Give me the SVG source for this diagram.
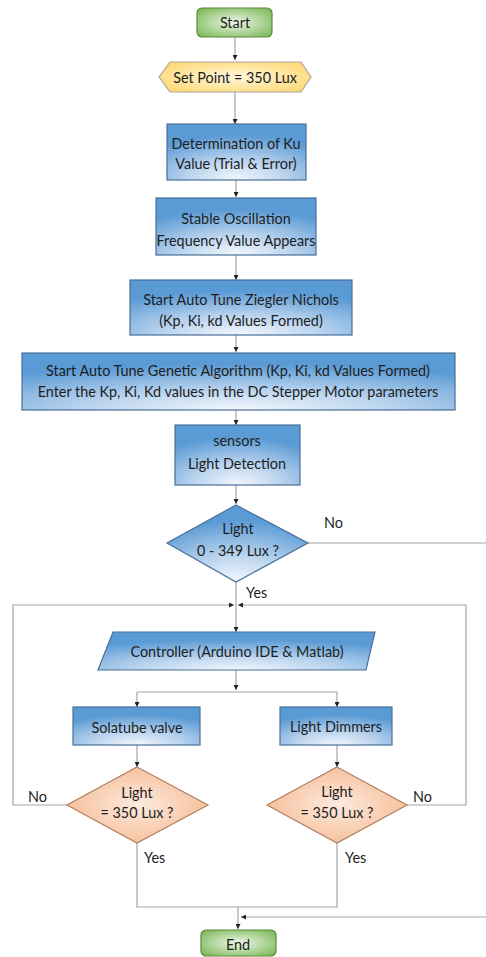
<svg xmlns="http://www.w3.org/2000/svg" width="486" height="957" viewBox="0 0 486 957">
<style>
text{font-family:"Lato","Open Sans","Liberation Sans",sans-serif;font-size:14.4px;fill:#1e1e1e;text-anchor:middle;dominant-baseline:central}
.lbl{text-anchor:start}
.c{fill:none;stroke:#a6a6a6;stroke-width:1.2}
.blue{fill:url(#gb);stroke:#4a6f96;stroke-width:1.2}
.green{fill:url(#gg);stroke:#5a8a3c;stroke-width:1.2}
.yel{fill:url(#gy);stroke:#a6a6a6;stroke-width:1.2}
.ora{fill:url(#go);stroke:#b08060;stroke-width:1.2}
</style>
<defs>
<radialGradient id="gb" cx="50%" cy="100%" r="80%"><stop offset="0" stop-color="#f4f8fd"/><stop offset="0.45" stop-color="#b9d3ee"/><stop offset="1" stop-color="#5b9bd5"/></radialGradient>
<radialGradient id="gg" cx="50%" cy="50%" r="70%"><stop offset="0" stop-color="#eef7e8"/><stop offset="1" stop-color="#74b44e"/></radialGradient>
<radialGradient id="gy" cx="50%" cy="50%" r="70%"><stop offset="0" stop-color="#fff8dc"/><stop offset="1" stop-color="#ffd466"/></radialGradient>
<radialGradient id="go" cx="50%" cy="50%" r="70%"><stop offset="0" stop-color="#fdeadf"/><stop offset="1" stop-color="#f4b183"/></radialGradient>
<marker id="ah" markerWidth="5" markerHeight="5" refX="5" refY="2.5" orient="auto" markerUnits="userSpaceOnUse"><path d="M0,0 L5,2.5 L0,5 z" fill="#222"/></marker>
</defs>
<rect width="486" height="957" fill="#fff"/>
<g id="connectors">
<path class="c" d="M235,37 V60" marker-end="url(#ah)"/>
<path class="c" d="M235,92 V124" marker-end="url(#ah)"/>
<path class="c" d="M236,180 V197" marker-end="url(#ah)"/>
<path class="c" d="M236,255 V280" marker-end="url(#ah)"/>
<path class="c" d="M236,335 V352" marker-end="url(#ah)"/>
<path class="c" d="M236,410 V425" marker-end="url(#ah)"/>
<path class="c" d="M236,485 V504" marker-end="url(#ah)"/>
<path class="c" d="M236,582 V632" marker-end="url(#ah)"/>
<path class="c" d="M308,543 H486"/>
<path class="c" d="M67,805 H13 V605 H234" marker-end="url(#ah)"/>
<path class="c" d="M407,805 H466 V605 H238" marker-end="url(#ah)"/>
<path class="c" d="M236,670 V690" marker-end="url(#ah)"/>
<path class="c" d="M137,692 H337"/>
<path class="c" d="M137,692 V707" marker-end="url(#ah)"/>
<path class="c" d="M337,692 V707" marker-end="url(#ah)"/>
<path class="c" d="M137,745 V767" marker-end="url(#ah)"/>
<path class="c" d="M337,745 V767" marker-end="url(#ah)"/>
<path class="c" d="M137,843 V907 H337 V843"/>
<path class="c" d="M238,907 V929" marker-end="url(#ah)"/>
<path class="c" d="M486,917 H241" marker-end="url(#ah)"/>
<text class="lbl" x="324" y="522">No</text>
<text class="lbl" x="246" y="592">Yes</text>
<text class="lbl" x="28" y="796">No</text>
<text class="lbl" x="413" y="796">No</text>
<text class="lbl" x="144" y="857">Yes</text>
<text class="lbl" x="345" y="857">Yes</text>
</g>
<g id="start"><rect class="green" x="197" y="8" width="75" height="29" rx="5"/><text x="235" y="22.5">Start</text></g>
<g id="setpoint"><path class="yel" d="M170,62 H301 L311,77 L301,92 H170 L159,77 Z"/><text x="235" y="77">Set Point = 350 Lux</text></g>
<g id="ku"><rect class="blue" x="167" y="124" width="139" height="56"/><text x="236" y="143">Determination of Ku</text><text x="236" y="163">Value (Trial &amp; Error)</text></g>
<g id="stable"><rect class="blue" x="156" y="198" width="160" height="57"/><text x="236" y="218">Stable Oscillation</text><text x="236" y="240">Frequency Value Appears</text></g>
<g id="zn"><rect class="blue" x="130" y="280" width="222" height="55"/><text x="241" y="299">Start Auto Tune Ziegler Nichols</text><text x="241" y="320">(Kp, Ki, kd Values Formed)</text></g>
<g id="ga"><rect class="blue" x="22" y="353" width="433" height="57"/><text x="238" y="370">Start Auto Tune Genetic Algorithm (Kp, Ki, kd Values Formed)</text><text x="238" y="391">Enter the Kp, Ki, Kd values in the DC Stepper Motor parameters</text></g>
<g id="sensors"><rect class="blue" x="175" y="425" width="125" height="60"/><text x="237" y="440">sensors</text><text x="237" y="463">Light Detection</text></g>
<g id="d1"><path class="blue" d="M236,505 L308,543 L236,582 L167,543 Z"/><text x="238" y="528">Light</text><text x="238" y="550">0 - 349 Lux ?</text></g>
<g id="controller"><path class="blue" d="M113,632 H375 L366,670 H98 Z"/><text x="237" y="651">Controller (Arduino IDE &amp; Matlab)</text></g>
<g id="solatube"><rect class="blue" x="73" y="707" width="127" height="38"/><text x="137" y="727">Solatube valve</text></g>
<g id="dimmers"><rect class="blue" x="280" y="707" width="112" height="38"/><text x="336" y="726">Light Dimmers</text></g>
<g id="d2"><path class="ora" d="M137,767 L208,805 L137,843 L67,805 Z"/><text x="137" y="792">Light</text><text x="137" y="812">= 350 Lux ?</text></g>
<g id="d3"><path class="ora" d="M337,767 L407,805 L337,843 L267,805 Z"/><text x="337" y="791">Light</text><text x="337" y="812">= 350 Lux ?</text></g>
<g id="end"><rect class="green" x="201" y="930" width="75" height="26" rx="5"/><text x="238" y="944">End</text></g>
</svg>
